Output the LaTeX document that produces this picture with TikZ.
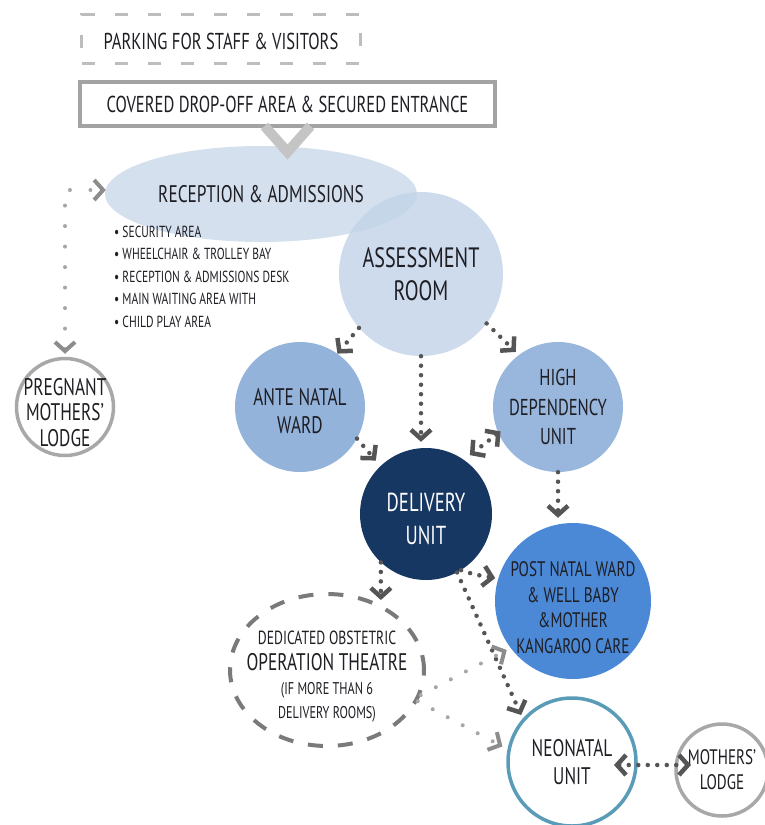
\documentclass[tikz,border=0pt]{standalone}
\usepackage{fontspec}
\setmainfont{PT Sans}[FakeStretch=0.72]
\usetikzlibrary{arrows.meta,calc,shapes.geometric}

\definecolor{ink}{HTML}{1E1E24}
\definecolor{boxgray}{HTML}{A3A3A3}
\definecolor{parkgray}{HTML}{BDBDBD}
\definecolor{vgray}{HTML}{C4C4C4}
\definecolor{recfill}{HTML}{D4E0EE}
\definecolor{assessfill}{HTML}{C4D5E9}
\definecolor{antefill}{HTML}{93B3DB}
\definecolor{hdufill}{HTML}{99B7DD}
\definecolor{delivfill}{HTML}{173763}
\definecolor{postfill}{HTML}{4B88D5}
\definecolor{neoline}{HTML}{5A9CB8}
\definecolor{lodgeline}{HTML}{A8A8A8}
\definecolor{dotdark}{HTML}{555555}
\definecolor{dotlight}{HTML}{A6A6A6}
\definecolor{chevlight}{HTML}{8C8C8C}
\definecolor{opline}{HTML}{7A7A7A}

\newcommand\setfs[2]{\fontsize{#1}{#2}\selectfont}
% invisible strut that raises the top of a first line (pushes a text block down)
\newcommand\toplift[1]{\rule{0pt}{#1}}

\tikzset{
  chev/.tip={Straight Barb[length=9pt,width=20pt,line width'=4.5pt]},
  lchev/.tip={Straight Barb[length=9pt,width=20pt,line width'=4pt,color=chevlight]},
  room/.style={circle, inner sep=0pt, text=ink, align=center},
  conn/.style={draw=dotdark, line width=4.5pt, line cap=round,
    dash pattern=on 0pt off 9.5pt, -{chev}},
  lightconn/.style={draw=dotlight, line width=4pt, line cap=round,
    dash pattern=on 0pt off 17pt, -{lchev}},
}

\begin{document}
\begin{tikzpicture}[x=1pt,y=-1pt]
\useasboundingbox (0,0) rectangle (764,825);

% entrance blocks
\node[draw=parkgray, line width=3.5pt, dash pattern=on 13pt off 20pt,
      minimum width=279pt, minimum height=49pt, inner sep=0pt, text=ink,
      font=\setfs{23}{28}]
      (park) at (221,39) {\toplift{21pt}PARKING FOR STAFF \& VISITORS};
\node[draw=boxgray, fill=white, line width=4pt,
      minimum width=415pt, minimum height=44pt, inner sep=0pt, text=ink,
      font=\setfs{23}{28}]
      (drop) at (287.5,104) {COVERED DROP-OFF AREA \& SECURED ENTRANCE};

% reception and assessment
\node[ellipse, fill=recfill, minimum width=312pt, minimum height=96pt,
      inner sep=0pt, text=ink, font=\setfs{24}{28}] (recep) at (261,194)
      {RECEPTION \& ADMISSIONS};
\draw[vgray, line width=10pt, miter limit=10]
      ($(drop.south)+(-23,-2)$) -- ($(drop.south)+(0,24)$) -- ($(drop.south)+(23,-2)$);
\node[room, fill=assessfill, fill opacity=0.85, text opacity=1,
      minimum size=164pt, font=\setfs{28}{33}] (assess) at (421,274)
      {ASSESSMENT\\ROOM};
\node[anchor=north west, align=left, text=ink, inner sep=0pt,
      font=\setfs{16}{22.4}] (list) at (114,226)
      {• SECURITY AREA\\• WHEELCHAIR \& TROLLEY BAY\\
       • RECEPTION \& ADMISSIONS DESK\\• MAIN WAITING AREA WITH\\• CHILD PLAY AREA};

% lodges
\node[room, draw=lodgeline, fill=white, line width=3.5pt, minimum size=97pt,
      inner sep=-14pt, font=\setfs{24}{25.5}] (preg) at (65,407)
      {\toplift{28pt}PREGNANT\\MOTHERS'\\LODGE};
\node[room, draw=lodgeline, fill=white, line width=3.5pt, minimum size=92pt,
      inner sep=-6pt, font=\setfs{21}{25}] (lodge) at (722,770) {MOTHERS'\\LODGE};

% wards and units
\node[room, fill=antefill, minimum size=130pt, font=\setfs{24}{28}]
      (ante) at (300,407) {\toplift{25pt}ANTE NATAL\\WARD};
\node[room, fill=hdufill, minimum size=130pt, font=\setfs{23}{29.5}]
      (hdu) at (558,407) {HIGH\\DEPENDENCY\\UNIT};
\node[room, fill=delivfill, text=white, minimum size=132pt, font=\setfs{26}{33}]
      (deliv) at (426,514) {\toplift{28pt}DELIVERY\\UNIT};
\node[room, fill=postfill, minimum size=156pt, inner sep=-4pt, font=\setfs{21}{25.5}]
      (post) at (573,601)
      {\toplift{28pt}POST NATAL WARD\\\& WELL BABY\\\&MOTHER\\KANGAROO CARE};
\node[room, draw=neoline, fill=white, line width=3.5pt, minimum size=128pt,
      font=\setfs{24}{28}] (neo) at (572,762) {NEONATAL\\UNIT};
\node[ellipse, draw=opline, line width=4pt, dash pattern=on 15pt off 15pt,
      minimum width=194pt, minimum height=152pt, inner xsep=-16pt, inner ysep=-4pt,
      text=ink, align=center, font=\setfs{19}{24}] (oper) at (327,670)
      {\toplift{27pt}DEDICATED OBSTETRIC\\[2pt]
       \setfs{24}{24}OPERATION THEATRE\\
       \setfs{17}{23}(IF MORE THAN 6\\
       \setfs{17}{23}DELIVERY ROOMS)};

% circulation between spaces
\draw[conn] (assess.221) -- (ante.55);
\draw[conn] (assess.323) -- ($(hdu.127)+(-3,-3)$);
\draw[conn] (assess.south) -- ($(assess.south |- deliv.north)+(0,-6)$);
\draw[conn] (ante.331) -- ($(deliv.133)+(-5,-5)$);
\draw[conn, {chev}-{chev}] ($(hdu.202)+(3,0)$) -- ($(deliv.53)+(4,-6)$);
\draw[conn] (hdu.south) -- ($(hdu.south |- post.north)+(0,-5)$);
\draw[conn] (deliv.227) -- ($(deliv.227 |- oper.north)+(0,8)$);
\draw[conn] (deliv.302) to[out=-20,in=170] ($(post.163)+(-3,0)$);
\draw[conn] (deliv.298) -- ($(neo.138)+(-2,-3)$);
\draw[lightconn] (oper.345) -- ($(post.216)+(-3,3)$);
\draw[lightconn] (oper.341) -- ($(neo.169)+(-5,-3)$);
\draw[conn, {chev}-{chev}] ($(neo.center)+(42,3)$) -- ($(lodge.center)+(-31,-5)$);
\draw[lightconn, dash pattern=on 0pt off 20.5pt, {lchev}-{lchev}]
      ($(preg.north)+(0,-3)$) |- ($(recep.west)+(1,-4)$);
\end{tikzpicture}
\end{document}
